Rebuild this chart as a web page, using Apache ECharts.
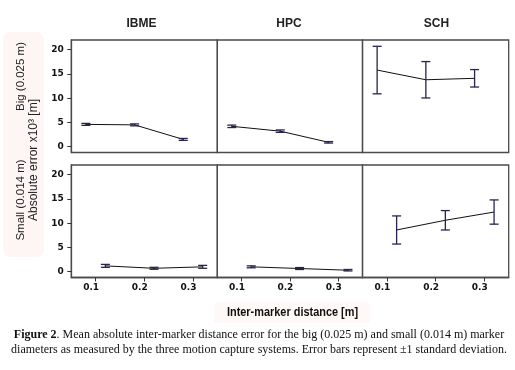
<!DOCTYPE html>
<html>
<head>
<meta charset="utf-8">
<script src="https://cdn.jsdelivr.net/npm/echarts@6/dist/echarts.min.js"></script>
<style>
html,body{margin:0;padding:0;background:#fff;}
#chart{width:515px;height:370px;}
</style>
</head>
<body>
<div id="chart"></div>
<script>
// ---- data ----
const systems = ['IBME', 'HPC', 'SCH'];
const rowLabels = ['Big (0.025 m)', 'Small (0.014 m)'];
const yTicks = [0, 5, 10, 15, 20];
const xTicks = [0.1, 0.2, 0.3];
const distBig = [0.08, 0.18, 0.28];
const distSmall = [0.12, 0.22, 0.32];

const bigIBME = [4.6, 4.5, 1.5];
const bigIBMEsd = [0.2, 0.2, 0.2];
const bigHPC = [4.2, 3.2, 0.9];
const bigHPCsd = [0.25, 0.25, 0.15];
const bigSCH = [15.8, 13.8, 14.1];
const bigSCHsd = [4.9, 3.75, 1.8];

const smallIBME = [1.2, 0.7, 1.0];
const smallIBMEsd = [0.3, 0.2, 0.3];
const smallHPC = [1.0, 0.65, 0.3];
const smallHPCsd = [0.2, 0.2, 0.15];
const smallSCH = [8.6, 10.6, 12.3];
const smallSCHsd = [2.9, 2.0, 2.5];

const yLabel = 'Absolute error x10\u00b3 [m]';
const xLabel = 'Inter-marker distance [m]';
const caption1 = 'Mean absolute inter-marker distance error for the big (0.025 m) and small (0.014 m) marker';
const caption2 = 'diameters as measured by the three motion capture systems. Error bars represent \u00b11 standard deviation.';

// ---- layout ----
const colLeft = [71.3, 217.3, 362.5];
const colWidth = [146, 145.2, 146.2];
const rowTop = [40, 165];
const rowHeight = 112.5;
const Y_MIN = -1.2, Y_MAX = 22;
const X_MIN = 0.05, X_MAX = 0.35;

const panels = [
  {r:0, c:0, x:distBig, m:bigIBME, sd:bigIBMEsd},
  {r:0, c:1, x:distBig, m:bigHPC, sd:bigHPCsd},
  {r:0, c:2, x:distBig, m:bigSCH, sd:bigSCHsd},
  {r:1, c:0, x:distSmall, m:smallIBME, sd:smallIBMEsd},
  {r:1, c:1, x:distSmall, m:smallHPC, sd:smallHPCsd},
  {r:1, c:2, x:distSmall, m:smallSCH, sd:smallSCHsd}
];

const tickFont = {fontFamily:'DejaVu Sans', fontWeight:'bold', fontSize:9, color:'#111'};
const grid = [], xAxis = [], yAxis = [], series = [];
const errColor = '#25254f';

function errRender(params, api) {
  const x = api.value(0), lo = api.value(1), hi = api.value(2);
  const a = api.coord([x, hi]), b = api.coord([x, lo]);
  const w = 4.5;
  const st = {stroke: errColor, lineWidth: 1.3};
  return {type:'group', children:[
    {type:'line', shape:{x1:a[0], y1:a[1], x2:b[0], y2:b[1]}, style:st},
    {type:'line', shape:{x1:a[0]-w, y1:a[1], x2:a[0]+w, y2:a[1]}, style:st},
    {type:'line', shape:{x1:b[0]-w, y1:b[1], x2:b[0]+w, y2:b[1]}, style:st}
  ]};
}

panels.forEach((p, i) => {
  grid.push({left: colLeft[p.c], top: rowTop[p.r], width: colWidth[p.c], height: rowHeight,
    show: true, borderColor: '#4a4a4a', borderWidth: 1.3, containLabel: false});
  xAxis.push({type:'value', gridIndex:i, min:X_MIN, max:X_MAX,
    splitLine:{show:false},
    axisLine:{show:p.r===1, onZero:false, lineStyle:{color:'#4a4a4a', width:1.3}},
    axisTick:{show:p.r===1, customValues:xTicks, length:4, lineStyle:{color:'#333'}},
    axisLabel:Object.assign({show:p.r===1, customValues:xTicks, margin:5.5,
      padding:[0,9,0,0], formatter:v => v.toFixed(1)}, tickFont)
  });
  yAxis.push({type:'value', gridIndex:i, min:Y_MIN, max:Y_MAX,
    splitLine:{show:false},
    axisLine:{show:p.c===0, onZero:false, lineStyle:{color:'#4a4a4a', width:1.3}},
    axisTick:{show:p.c===0, customValues:yTicks, length:4, lineStyle:{color:'#333'}},
    axisLabel:Object.assign({show:p.c===0, customValues:yTicks, margin:7.5}, tickFont)
  });
  series.push({type:'line', xAxisIndex:i, yAxisIndex:i, symbol:'none', z:2,
    lineStyle:{color:'#111', width:1}, data:p.x.map((x,k)=>[x, p.m[k]]), silent:true});
  series.push({type:'custom', xAxisIndex:i, yAxisIndex:i, z:3, renderItem:errRender,
    encode:{x:0, y:[1,2]}, silent:true,
    data:p.x.map((x,k)=>[x, p.m[k]-p.sd[k], p.m[k]+p.sd[k]])});
});

const graphic = [
  {type:'rect', shape:{x:3, y:32, width:41, height:225, r:8}, style:{fill:'#fef6f4'}, z:-10},
  {type:'rect', shape:{x:214, y:302, width:156, height:21, r:4}, style:{fill:'#fef8f6'}, z:-10}
];
const titleX = [141.5, 289, 436.5];
systems.forEach((s, c) => graphic.push({type:'text', x:titleX[c], y:23.5,
  style:{text:s, fontFamily:'Liberation Sans', fontWeight:'bold', fontSize:12, fill:'#222',
    textAlign:'center', textVerticalAlign:'middle'}}));
graphic.push({type:'text', x:21, y:76.5, rotation:Math.PI/2,
  style:{text:rowLabels[0], fontFamily:'Liberation Sans', fontSize:11.5, fill:'#222', textAlign:'center', textVerticalAlign:'middle'}});
graphic.push({type:'text', x:21, y:200, rotation:Math.PI/2,
  style:{text:rowLabels[1], fontFamily:'Liberation Sans', fontSize:11.5, fill:'#222', textAlign:'center', textVerticalAlign:'middle'}});
graphic.push({type:'text', x:33.5, y:160, rotation:Math.PI/2,
  style:{text:yLabel, fontFamily:'Liberation Sans', fontSize:12, fill:'#222', textAlign:'center', textVerticalAlign:'middle'}});
graphic.push({type:'text', x:292.5, y:312.5, scaleX:0.84,
  style:{text:xLabel, fontFamily:'Liberation Sans', fontWeight:'bold', fontSize:13, fill:'#111', textAlign:'center', textVerticalAlign:'middle'}});
graphic.push({type:'text', x:259, y:334.5,
  style:{text:'{b|Figure 2}. ' + caption1, rich:{b:{fontWeight:'bold', fontFamily:'Liberation Serif', fontSize:12, fill:'#111'}},
    fontFamily:'Liberation Serif', fontSize:12, fill:'#111', textAlign:'center', textVerticalAlign:'middle'}});
graphic.push({type:'text', x:259, y:350,
  style:{text:caption2, fontFamily:'Liberation Serif', fontSize:12, fill:'#111', textAlign:'center', textVerticalAlign:'middle'}});

const chart = echarts.init(document.getElementById('chart'), null, {renderer:'canvas'});
chart.setOption({backgroundColor:'#fff', animation:false, grid, xAxis, yAxis, series, graphic});
</script>
</body>
</html>
